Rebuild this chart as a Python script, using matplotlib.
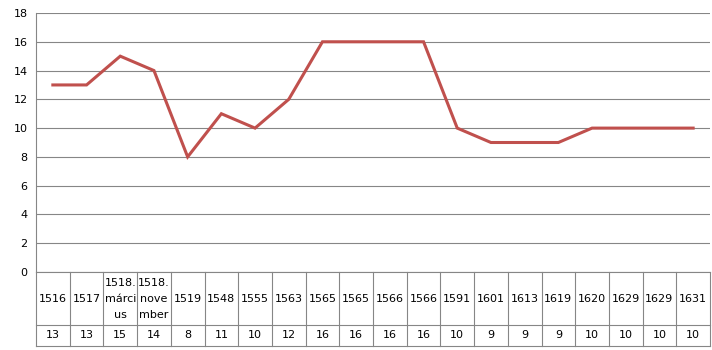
import matplotlib.pyplot as plt
import numpy as np

labels = ["1516", "1517", "1518.\nmárci\nus", "1518.\nnove\nmber", "1519", "1548",
          "1555", "1563", "1565", "1565", "1566", "1566", "1591", "1601", "1613",
          "1619", "1620", "1629", "1629", "1631"]
values = [13, 13, 15, 14, 8, 11, 10, 12, 16, 16, 16, 16, 10, 9, 9, 9, 10, 10, 10, 10]
yticks = [0, 2, 4, 6, 8, 10, 12, 14, 16, 18]

grid_col = "#868686"
line_col = "#C0504D"
fs = 8

fig = plt.figure(figsize=(7.12, 3.5), dpi=100)
ax = fig.add_axes([36 / 712, 1 - 272 / 350, (710 - 36) / 712, (272 - 13) / 350])

x = np.arange(len(values))
ax.plot(x, values, color=line_col, linewidth=2.2, solid_joinstyle="miter")

ax.set_xlim(-0.5, len(values) - 0.5)
ax.set_ylim(0, 18)
ax.set_yticks(yticks)
ax.set_yticklabels([str(t) for t in yticks], fontsize=fs)
ax.set_xticks([])
ax.tick_params(axis="y", length=0, pad=6)
ax.grid(axis="y", color=grid_col, linewidth=0.8)
ax.set_axisbelow(True)
for side in ["top", "right"]:
    ax.spines[side].set_visible(False)
ax.spines["left"].set_color(grid_col)
ax.spines["bottom"].set_color(grid_col)
ax.spines["left"].set_linewidth(0.8)
ax.spines["bottom"].set_linewidth(0.8)

# data table under the axis
h = 259.0
r1 = -53 / h
r2 = -74 / h
tr = ax.get_xaxis_transform()
for i in range(len(values) + 1):
    ax.plot([i - 0.5, i - 0.5], [0, r2], transform=tr, color=grid_col,
            linewidth=0.8, clip_on=False)
for yy in [r1, r2]:
    ax.plot([-0.5, len(values) - 0.5], [yy, yy], transform=tr, color=grid_col,
            linewidth=0.8, clip_on=False)
for i, (lab, v) in enumerate(zip(labels, values)):
    ax.text(i, r1 / 2, lab, transform=tr, ha="center", va="center",
            fontsize=fs, linespacing=1.75, clip_on=False)
    ax.text(i, (r1 + r2) / 2, str(v), transform=tr, ha="center", va="center",
            fontsize=fs, clip_on=False)

fig.savefig("out.png", dpi=100)
